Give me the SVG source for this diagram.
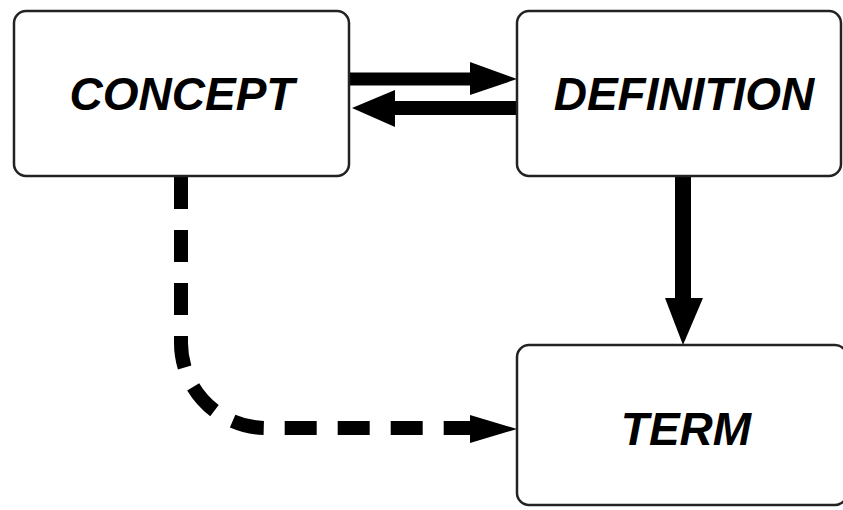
<svg xmlns="http://www.w3.org/2000/svg" width="843" height="510" viewBox="0 0 843 510">
<defs>
<style>
.box{fill:#fff;stroke:#222;stroke-width:2.5}
.lbl{font-family:"Liberation Sans",Arial,sans-serif;font-weight:bold;font-style:italic;font-size:46px;fill:#000;text-anchor:middle}
.solid{stroke:#000;fill:none}
</style>
</defs>
<rect width="843" height="510" fill="#fff"/>
<g id="connectors">
<line class="solid" x1="349" y1="79" x2="472" y2="79" stroke-width="13"/>
<polygon points="470,62 517,79 470,95" fill="#000"/>
<line class="solid" x1="517" y1="108" x2="393" y2="108" stroke-width="14"/>
<polygon points="395,90 352,108 395,127" fill="#000"/>
<line class="solid" x1="683" y1="177" x2="683" y2="300" stroke-width="16"/>
<polygon points="665,298 703,298 683,345" fill="#000"/>
<path class="solid" d="M181,177 V343 A85,85 0 0 0 266,428 H470" stroke-width="14" stroke-dasharray="32 21"/>
<polygon points="470,415 517,429 470,443" fill="#000"/>
</g>
<g id="concept">
<rect class="box" x="14" y="11" width="335" height="165" rx="12"/>
<text class="lbl" x="182" y="110">CONCEPT</text>
</g>
<g id="definition">
<rect class="box" x="517" y="11" width="324" height="165" rx="12"/>
<text class="lbl" x="684" y="110">DEFINITION</text>
</g>
<g id="term">
<rect class="box" x="517" y="345" width="330" height="160" rx="12"/>
<text class="lbl" x="686" y="445">TERM</text>
</g>
</svg>
